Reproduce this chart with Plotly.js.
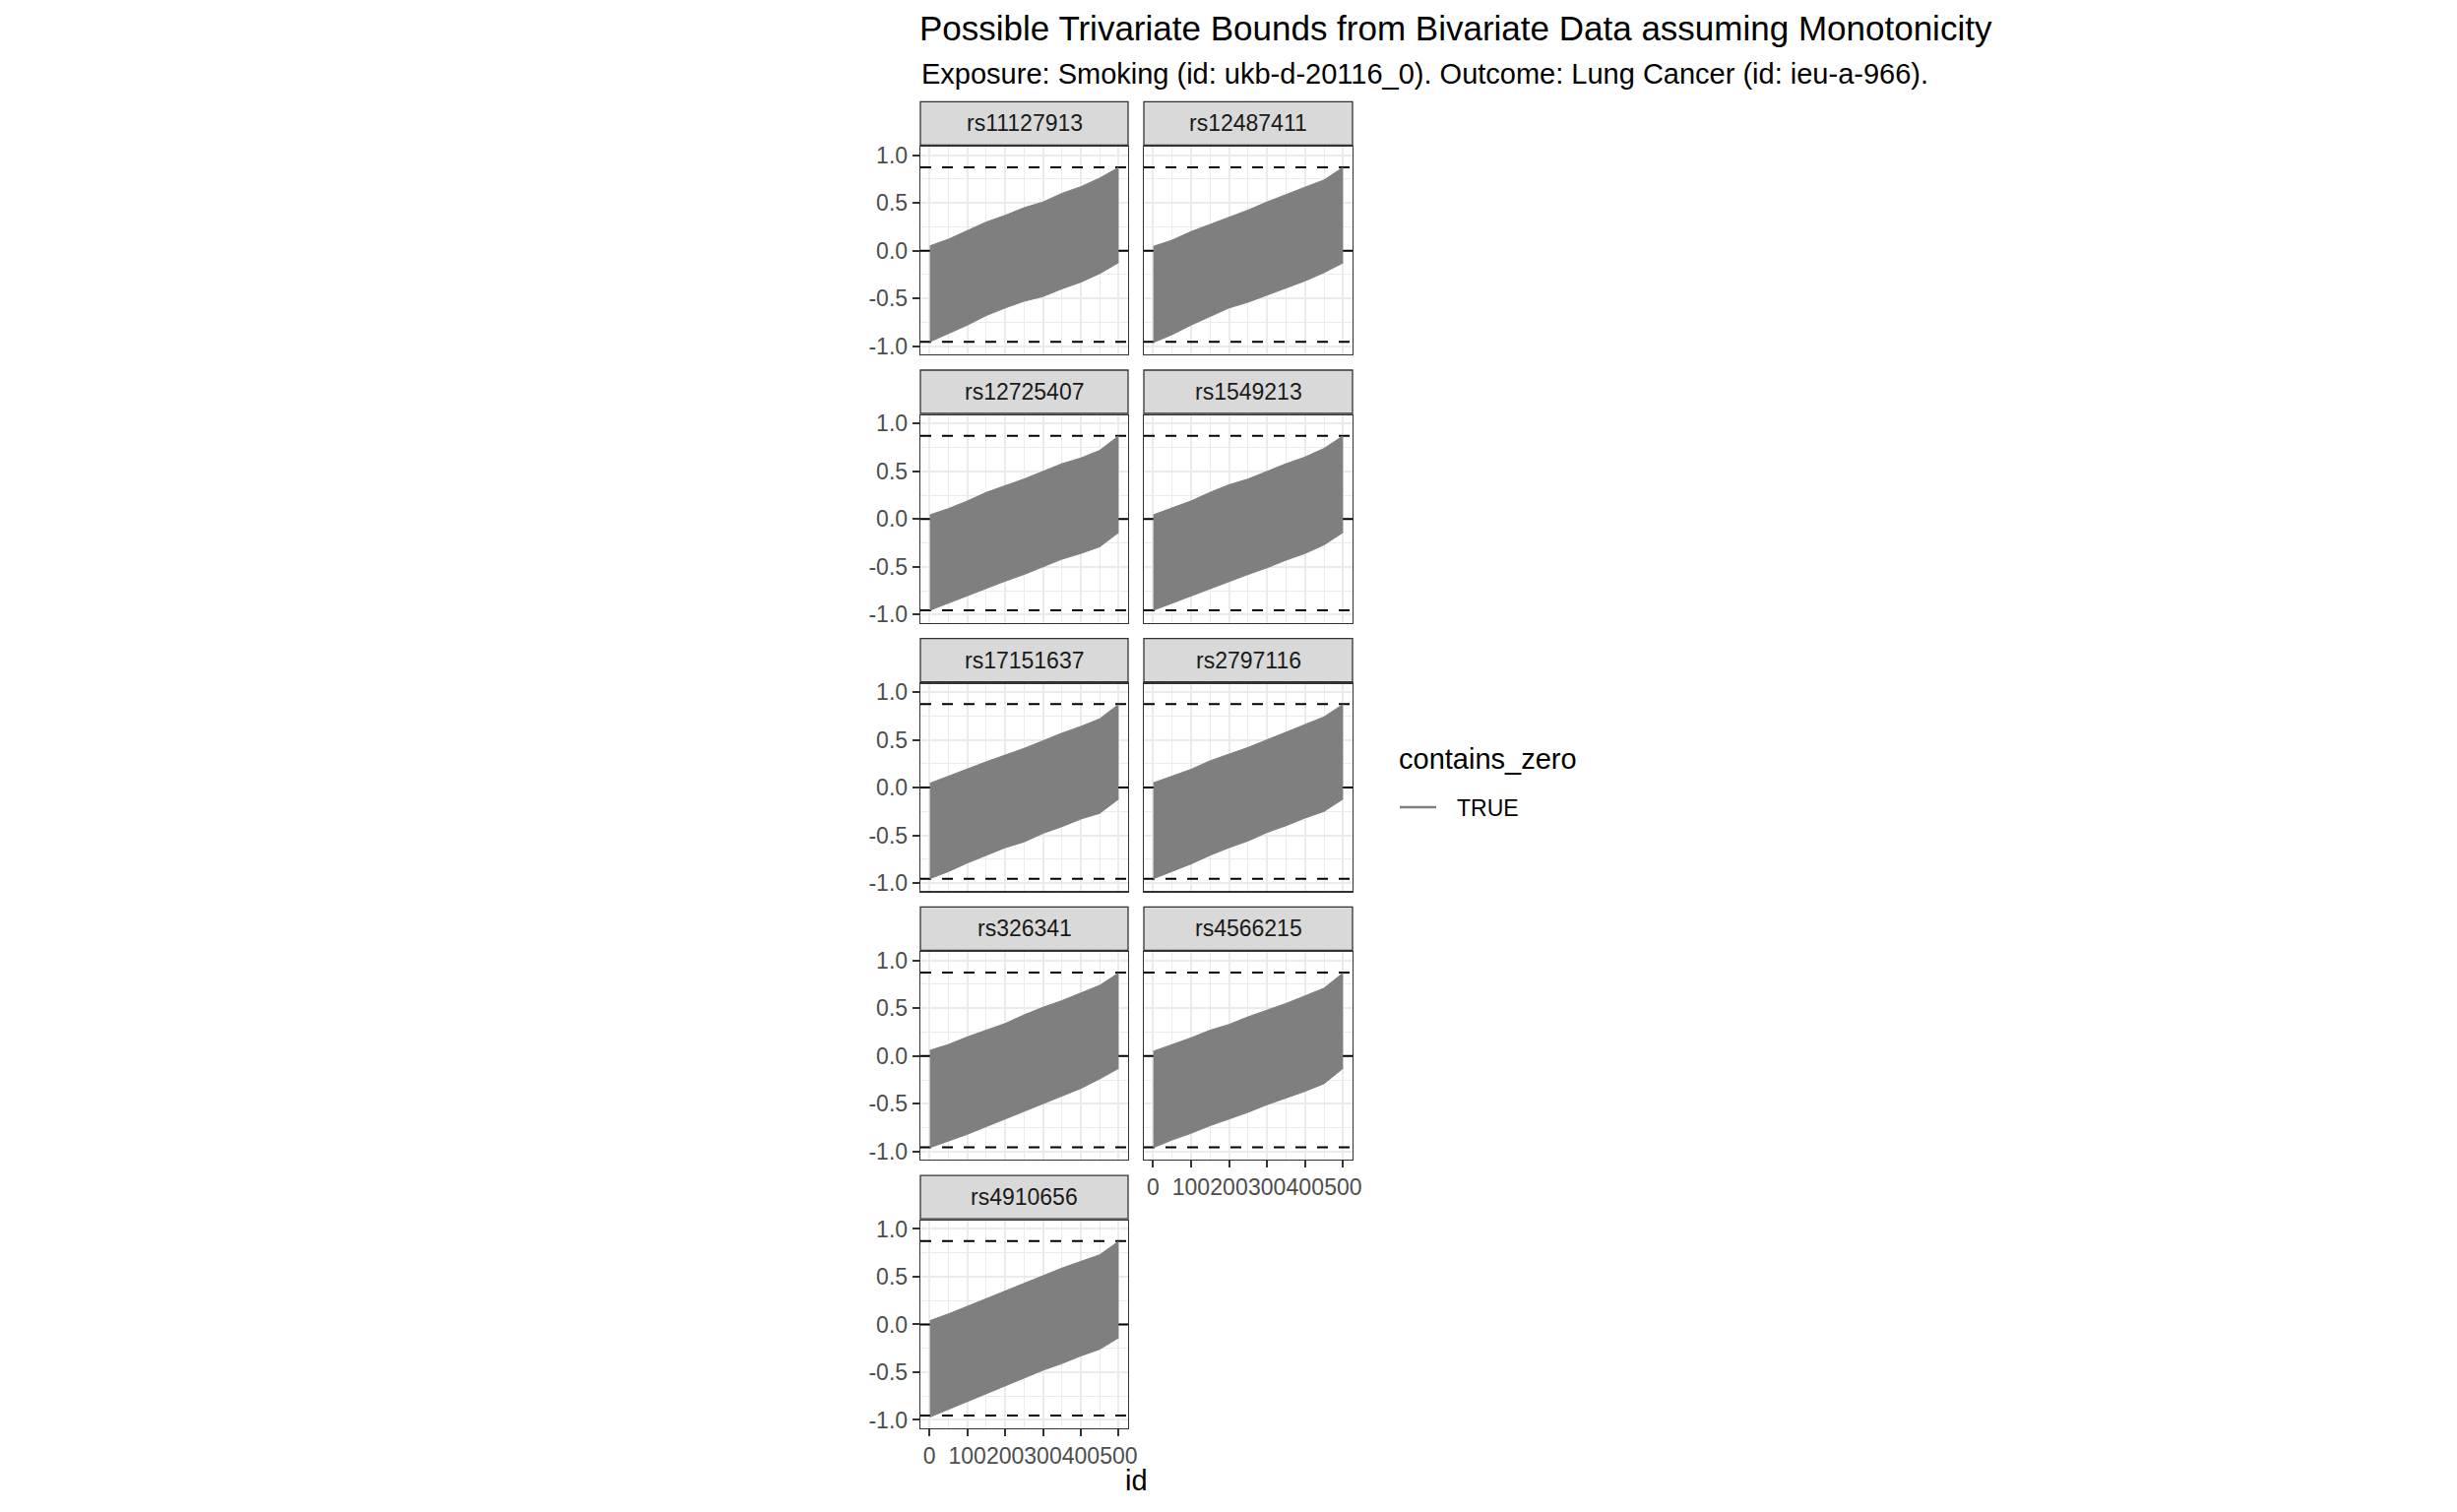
<!DOCTYPE html>
<html><head><meta charset="utf-8">
<script src="https://cdn.plot.ly/plotly-3.0.1.min.js"></script>
<style>html,body{margin:0;padding:0;background:#fff}</style>
</head><body><div id="chart" style="width:2496px;height:1536px"></div>
<script>
// ---------------- data ----------------
const snps = ['rs11127913','rs12487411','rs12725407','rs1549213','rs17151637','rs2797116','rs326341','rs4566215','rs4910656'];
const ids = [1,50,100,150,200,250,300,350,400,450,500];

const up_rs11127913 = [0.05,0.12,0.21,0.30,0.37,0.45,0.51,0.60,0.67,0.76,0.873];
const lo_rs11127913 = [-0.955,-0.87,-0.78,-0.68,-0.60,-0.53,-0.48,-0.40,-0.33,-0.24,-0.125];
const up_rs12487411 = [0.045,0.11,0.20,0.275,0.355,0.425,0.51,0.59,0.665,0.74,0.873];
const lo_rs12487411 = [-0.962,-0.88,-0.78,-0.69,-0.60,-0.54,-0.465,-0.385,-0.317,-0.23,-0.128];
const up_rs12725407 = [0.045,0.11,0.19,0.28,0.35,0.42,0.50,0.58,0.64,0.72,0.872];
const lo_rs12725407 = [-0.955,-0.88,-0.80,-0.72,-0.65,-0.58,-0.50,-0.42,-0.36,-0.29,-0.14];
const up_rs1549213 = [0.045,0.12,0.19,0.28,0.36,0.42,0.50,0.58,0.65,0.74,0.872];
const lo_rs1549213 = [-0.955,-0.88,-0.81,-0.73,-0.65,-0.58,-0.51,-0.43,-0.36,-0.27,-0.14];
const up_rs17151637 = [0.045,0.12,0.20,0.27,0.34,0.41,0.49,0.57,0.64,0.72,0.872];
const lo_rs17151637 = [-0.955,-0.88,-0.79,-0.71,-0.63,-0.57,-0.48,-0.41,-0.33,-0.27,-0.12];
const up_rs2797116 = [0.05,0.12,0.19,0.28,0.35,0.42,0.50,0.58,0.66,0.74,0.872];
const lo_rs2797116 = [-0.955,-0.88,-0.80,-0.71,-0.63,-0.56,-0.47,-0.40,-0.32,-0.25,-0.12];
const up_rs326341 = [0.06,0.12,0.20,0.27,0.34,0.43,0.51,0.58,0.66,0.74,0.87];
const lo_rs326341 = [-0.96,-0.89,-0.82,-0.74,-0.66,-0.58,-0.50,-0.42,-0.34,-0.24,-0.13];
const up_rs4566215 = [0.05,0.12,0.19,0.27,0.33,0.41,0.48,0.55,0.63,0.71,0.87];
const lo_rs4566215 = [-0.96,-0.88,-0.81,-0.73,-0.66,-0.59,-0.51,-0.44,-0.37,-0.29,-0.13];
const up_rs4910656 = [0.04,0.11,0.19,0.27,0.35,0.43,0.51,0.59,0.66,0.73,0.87];
const lo_rs4910656 = [-0.97,-0.89,-0.81,-0.73,-0.65,-0.56,-0.48,-0.41,-0.33,-0.26,-0.14];

const refLines = [0.873, -0.955];
const zeroLine = 0;
const xRange = [-24, 525];
const yRange = [-1.086, 1.086];
const xTickVals = [0,100,200,300,400,500];
const xTickText = ['0','100','200','300','400','500'];
const xMinorVals = [50,150,250,350,450];
const yTickVals = [-1,-0.5,0,0.5,1];
const yTickText = ['-1.0','-0.5','0.0','0.5','1.0'];
const yMinorVals = [-0.75,-0.25,0.25,0.75];
const legendTitle = 'contains_zero';
const legendLabel = 'TRUE';
const titleText = 'Possible Trivariate Bounds from Bivariate Data assuming Monotonicity';
const subtitleText = 'Exposure: Smoking (id: ukb-d-20116_0). Outcome: Lung Cancer (id: ieu-a-966).';
const xTitle = 'id';

const upper = [up_rs11127913,up_rs12487411,up_rs12725407,up_rs1549213,up_rs17151637,up_rs2797116,up_rs326341,up_rs4566215,up_rs4910656];
const lower = [lo_rs11127913,lo_rs12487411,lo_rs12725407,lo_rs1549213,lo_rs17151637,lo_rs2797116,lo_rs326341,lo_rs4566215,lo_rs4910656];

// ---------------- layout geometry (pixels) ----------------
const W = 2496, H = 1536;
const FONT = 'Liberation Sans, Arial, Helvetica, sans-serif';
const GRAY = '#7F7F7F';
const colX = [[935,1146],[1162,1374]];
const plotTop0 = 149.3, rowPeriod = 272.7, plotH = 210.7;
const stripH = 44, stripGap = 2;
const px = v => v / W;
const py = v => 1 - v / H;

const traces = [];
const shapes = [];
const annotations = [];
const layout = {
  width: W, height: H,
  margin: {l:0, r:0, t:0, b:0},
  paper_bgcolor: '#ffffff', plot_bgcolor: '#ffffff',
  font: {family: FONT, color: '#000000'},
  showlegend: false,
  title: {text: titleText, x: px(934), xanchor: 'left', xref: 'paper',
          y: py(29), yanchor: 'middle', yref: 'paper',
          font: {size: 35, color: '#000000', family: FONT}}
};

snps.forEach((name, i) => {
  const row = Math.floor(i / 2), col = i % 2;
  const n = i + 1;
  const xa = n === 1 ? 'x' : 'x' + n;
  const ya = n === 1 ? 'y' : 'y' + n;
  const top = plotTop0 + row * rowPeriod;
  const bot = top + plotH;
  const [x0, x1] = colX[col];
  const showX = (name === 'rs4910656' || name === 'rs4566215');
  const showY = col === 0;

  layout[n === 1 ? 'xaxis' : 'xaxis' + n] = {
    domain: [px(x0), px(x1)], anchor: ya, range: xRange,
    tickmode: 'array', tickvals: xTickVals, ticktext: xTickText,
    showticklabels: showX, ticks: showX ? 'outside' : '', ticklen: 7, tickwidth: 2, tickcolor: '#333333',
    tickfont: {size: 23, color: '#4D4D4D', family: FONT}, tickangle: 0,
    showgrid: true, gridcolor: '#EBEBEB', gridwidth: 2,
    minor: {tickmode: 'array', tickvals: xMinorVals, showgrid: true, gridcolor: '#EBEBEB', gridwidth: 1, ticks: ''},
    zeroline: false, showline: true, mirror: true, linecolor: '#333333', linewidth: 1.3,
    fixedrange: true
  };
  layout[n === 1 ? 'yaxis' : 'yaxis' + n] = {
    domain: [py(bot), py(top)], anchor: xa, range: yRange,
    tickmode: 'array', tickvals: yTickVals, ticktext: yTickText,
    showticklabels: showY, ticks: showY ? 'outside' : '', ticklen: 7, tickwidth: 2, tickcolor: '#333333',
    tickfont: {size: 23, color: '#4D4D4D', family: FONT},
    showgrid: true, gridcolor: '#EBEBEB', gridwidth: 2,
    minor: {tickmode: 'array', tickvals: yMinorVals, showgrid: true, gridcolor: '#EBEBEB', gridwidth: 1, ticks: ''},
    zeroline: false, showline: true, mirror: true, linecolor: '#333333', linewidth: 1.3,
    fixedrange: true
  };

  // reference lines (drawn first so the band sits on top of them)
  traces.push({x: xRange, y: [zeroLine, zeroLine], xaxis: xa, yaxis: ya, type: 'scatter', mode: 'lines',
    line: {color: '#000000', width: 2}, showlegend: false, hoverinfo: 'skip', cliponaxis: true});
  refLines.forEach(v => traces.push({x: xRange, y: [v, v], xaxis: xa, yaxis: ya, type: 'scatter', mode: 'lines',
    line: {color: '#000000', width: 2, dash: '11px,11px'}, showlegend: false, hoverinfo: 'skip'}));

  // band: lower then upper filled to it
  traces.push({x: ids, y: lower[i], xaxis: xa, yaxis: ya, type: 'scatter', mode: 'lines',
    line: {color: GRAY, width: 1}, showlegend: false, hoverinfo: 'skip'});
  traces.push({x: ids, y: upper[i], xaxis: xa, yaxis: ya, type: 'scatter', mode: 'lines',
    line: {color: GRAY, width: 1}, fill: 'tonexty', fillcolor: GRAY, showlegend: false, hoverinfo: 'skip'});

  // strip
  const sTop = top - stripGap - stripH, sBot = top - stripGap;
  shapes.push({type: 'rect', xref: 'paper', yref: 'paper', x0: px(x0), x1: px(x1), y0: py(sBot), y1: py(sTop),
    fillcolor: '#D9D9D9', line: {color: '#333333', width: 1.3}});
  annotations.push({text: name, xref: 'paper', yref: 'paper', x: px((x0 + x1) / 2), y: py((sTop + sBot) / 2),
    xanchor: 'center', yanchor: 'middle', showarrow: false, font: {size: 23, color: '#1A1A1A', family: FONT}});
});

// legend (drawn manually to match ggplot guide layout)
annotations.push({text: legendTitle, xref: 'paper', yref: 'paper', x: px(1419), y: py(771),
  xanchor: 'left', yanchor: 'middle', showarrow: false, font: {size: 29, color: '#000000', family: FONT}});
shapes.push({type: 'line', xref: 'paper', yref: 'paper', x0: px(1422), x1: px(1459), y0: py(820), y1: py(820),
  line: {color: GRAY, width: 2.5}});
annotations.push({text: legendLabel, xref: 'paper', yref: 'paper', x: px(1478), y: py(821),
  xanchor: 'left', yanchor: 'middle', showarrow: false, font: {size: 23, color: '#000000', family: FONT}});

annotations.push({text: subtitleText, xref: 'paper', yref: 'paper', x: px(934), y: py(75),
  xanchor: 'left', yanchor: 'middle', showarrow: false, font: {size: 29, color: '#000000', family: FONT}});
annotations.push({text: xTitle, xref: 'paper', yref: 'paper', x: px(1154.5), y: py(1504),
  xanchor: 'center', yanchor: 'middle', showarrow: false, font: {size: 29, color: '#000000', family: FONT}});

layout.shapes = shapes;
layout.annotations = annotations;

Plotly.newPlot('chart', traces, layout, {staticPlot: true, displayModeBar: false});
</script></body></html>
